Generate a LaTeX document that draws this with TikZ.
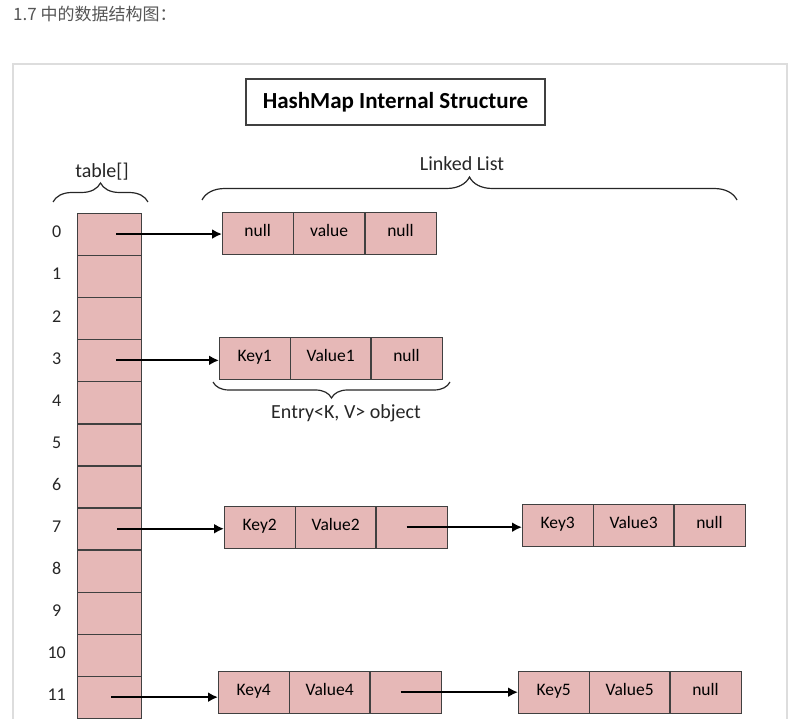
\documentclass[tikz,border=0pt]{standalone}
\usepackage{fontspec}
\setmainfont{Carlito}
\newfontfamily\cjkfont{Noto Sans CJK SC}
\usetikzlibrary{positioning}
\usetikzlibrary{arrows.meta}
\usetikzlibrary{decorations.pathreplacing}

\definecolor{cellpink}{RGB}{230,184,183}
\definecolor{edgegray}{RGB}{64,64,64}
\definecolor{framegray}{RGB}{221,221,221}
\definecolor{headgray}{RGB}{85,85,85}

\tikzset{
  slot/.style={draw=edgegray, fill=cellpink, minimum width=64pt, minimum height=41.7pt, inner sep=0pt},
  field/.style={draw=edgegray, fill=cellpink, minimum width=71pt, minimum height=42pt, inner sep=0pt, text height=10pt, text depth=3pt, font=\fontsize{17.5}{20}\selectfont},
  wide/.style={minimum width=80pt},
  idx/.style={font=\fontsize{18}{20}\selectfont, text=black!85},
  lbl/.style={font=\fontsize{20}{22}\selectfont, text=black!85},
  link/.style={line width=2.2pt, -{Latex[length=10pt,width=10pt]}},
  curly/.style={decorate, decoration={brace, amplitude=#1}, line width=1.2pt, black!85},
}

\begin{document}
\begin{tikzpicture}[x=1pt, y=-1pt]
    \useasboundingbox (0,0) rectangle (798,719);
    \clip (0,0) rectangle (798,719);

    \node[anchor=base west, inner sep=0pt, text=headgray, font=\cjkfont\fontsize{17}{20}\selectfont] (head) at (13,21) {1.7 中的数据结构图：};
    \draw[framegray, line width=1.5pt] (13,740) -- (13,64) -- (787,64) -- (787,740);

    \node[draw=edgegray, line width=1.2pt, minimum width=299pt, minimum height=46pt, font=\bfseries\fontsize{23}{26}\selectfont] (title) at (395.5,102) {HashMap Internal Structure};

    % table[]
    \node[slot, anchor=north west] (t0) at (77,213) {};
    \node[slot, below=0pt of t0] (t1) {};
    \node[slot, below=0pt of t1] (t2) {};
    \node[slot, below=0pt of t2] (t3) {};
    \node[slot, below=0pt of t3] (t4) {};
    \node[slot, below=0pt of t4] (t5) {};
    \node[slot, below=0pt of t5] (t6) {};
    \node[slot, below=0pt of t6] (t7) {};
    \node[slot, below=0pt of t7] (t8) {};
    \node[slot, below=0pt of t8] (t9) {};
    \node[slot, below=0pt of t9] (t10) {};
    \node[slot, below=0pt of t10] (t11) {};
    \node[slot, below=0pt of t11] (t12) {};

    \node[idx] (i0) at ([xshift=-52.5pt, yshift=2pt]t0.center) {0};
    \node[idx] (i1) at ([xshift=-52.5pt, yshift=2pt]t1.center) {1};
    \node[idx] (i2) at ([xshift=-52.5pt, yshift=2pt]t2.center) {2};
    \node[idx] (i3) at ([xshift=-52.5pt, yshift=2pt]t3.center) {3};
    \node[idx] (i4) at ([xshift=-52.5pt, yshift=2pt]t4.center) {4};
    \node[idx] (i5) at ([xshift=-52.5pt, yshift=2pt]t5.center) {5};
    \node[idx] (i6) at ([xshift=-52.5pt, yshift=2pt]t6.center) {6};
    \node[idx] (i7) at ([xshift=-52.5pt, yshift=2pt]t7.center) {7};
    \node[idx] (i8) at ([xshift=-52.5pt, yshift=2pt]t8.center) {8};
    \node[idx] (i9) at ([xshift=-52.5pt, yshift=2pt]t9.center) {9};
    \node[idx] (i10) at ([xshift=-52.5pt, yshift=2pt]t10.center) {10};
    \node[idx] (i11) at ([xshift=-52.5pt, yshift=2pt]t11.center) {11};

    \node[lbl] (tablab) at (102,172) {table[]};
    \draw[curly=19pt] (53,202) -- (148,202);
    \node[lbl] (listlab) at (462,164) {Linked List};
    \draw[curly=23pt] (202,200) -- (737,200);

    % entries
    \node[field, anchor=north west] (a1) at (222,212) {null};
    \node[field, right=0pt of a1] (a2) {value};
    \node[field, right=0pt of a2] (a3) {null};

    \node[field, anchor=north west] (k1) at (219,337) {Key1};
    \node[field, wide, right=0pt of k1] (v1) {Value1};
    \node[field, right=0pt of v1] (n1) {null};
    \draw[curly=16pt] (450,382) -- (213,382);
    \node[lbl, anchor=base] (entrylab) at (346,418) {Entry<K, V> object};

    \node[field, anchor=north west] (k2) at (224,506) {Key2};
    \node[field, wide, right=0pt of k2] (v2) {Value2};
    \node[field, right=0pt of v2] (n2) {};
    \node[field, anchor=north west] (k3) at (522,504) {Key3};
    \node[field, wide, right=0pt of k3] (v3) {Value3};
    \node[field, right=0pt of v3] (n3) {null};

    \node[field, anchor=north west] (k4) at (218,671) {Key4};
    \node[field, wide, right=0pt of k4] (v4) {Value4};
    \node[field, right=0pt of v4] (n4) {};
    \node[field, anchor=north west] (k5) at (518,671) {Key5};
    \node[field, wide, right=0pt of k5] (v5) {Value5};
    \node[field, right=0pt of v5] (n5) {null};

    % pointers
    \coordinate (s0) at ([xshift=7pt]t0.center);
    \coordinate (s3) at ([xshift=7pt]t3.center);
    \coordinate (s7) at ([xshift=8pt]t7.center);
    \coordinate (s11) at ([xshift=2pt]t11.center);
    \coordinate (s2) at ([xshift=-5pt]n2.center);
    \coordinate (s4) at ([xshift=-5pt]n4.center);
    \draw[link] (s0) -- (s0 -| a1.west);
    \draw[link] (s3) -- (s3 -| k1.west);
    \draw[link] (s7) -- (s7 -| k2.west);
    \draw[link] (s2) -- (s2 -| k3.west);
    \draw[link] (s11) -- (s11 -| k4.west);
    \draw[link] (s4) -- (s4 -| k5.west);
\end{tikzpicture}
\end{document}
